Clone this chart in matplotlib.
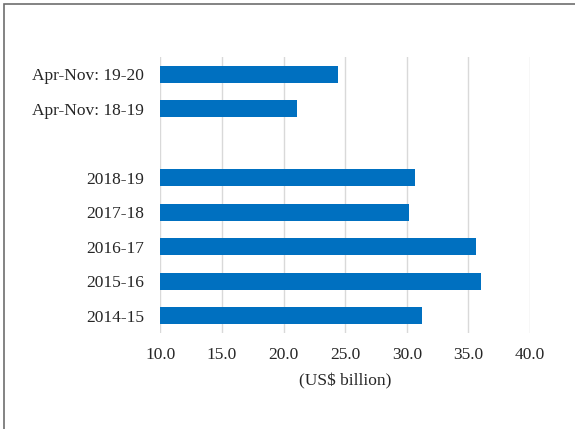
import matplotlib
matplotlib.use('Agg')
import matplotlib.pyplot as plt
from matplotlib.patches import Rectangle

# categories from bottom to top, empty string is the gap row
labels = ['2014-15', '2015-16', '2016-17', '2017-18', '2018-19', '',
          'Apr-Nov: 18-19', 'Apr-Nov: 19-20']
values = [31.2, 36.0, 35.6, 30.2, 30.7, None, 21.1, 24.4]
x_ticks = [10.0, 15.0, 20.0, 25.0, 30.0, 35.0, 40.0]

plt.rcParams['font.family'] = ['Liberation Serif', 'DejaVu Serif']

fig = plt.figure(figsize=(5.75, 4.29), dpi=100)
ax = fig.add_axes([0.2788, 0.224, 0.9217 - 0.2788, 0.867 - 0.224])

pos = [i for i, v in enumerate(values) if v is not None]
vals = [v for v in values if v is not None]
ax.barh(pos, [v - 10 for v in vals], left=10, height=0.5, color='#0070C0',
        zorder=3)

ax.set_xlim(10, 40)
ax.set_ylim(-0.5, len(labels) - 0.5)
ax.set_xticks(x_ticks)
ax.set_xticklabels(['%.1f' % t for t in x_ticks])
ax.set_yticks(range(len(labels)))
ax.set_yticklabels(labels)
ax.tick_params(axis='both', length=0, labelsize=12.5, colors='#262626')
ax.tick_params(axis='x', pad=10.5)
ax.tick_params(axis='y', pad=11.5)
ax.grid(axis='x', color='#d9d9d9', linewidth=1.0, zorder=0)
for s in ax.spines.values():
    s.set_visible(False)
ax.set_xlabel('(US$ billion)', fontsize=12.5, color='#262626', labelpad=7)

# outer frame, only top and left edges show
fig.patches.append(Rectangle((4.3 / 575, -0.1), 1.2, 1.1 - 4 / 429,
                             transform=fig.transFigure, fill=False,
                             edgecolor='#6e6e6e', linewidth=1.2,
                             clip_on=False))

fig.savefig('out.png', dpi=100)
